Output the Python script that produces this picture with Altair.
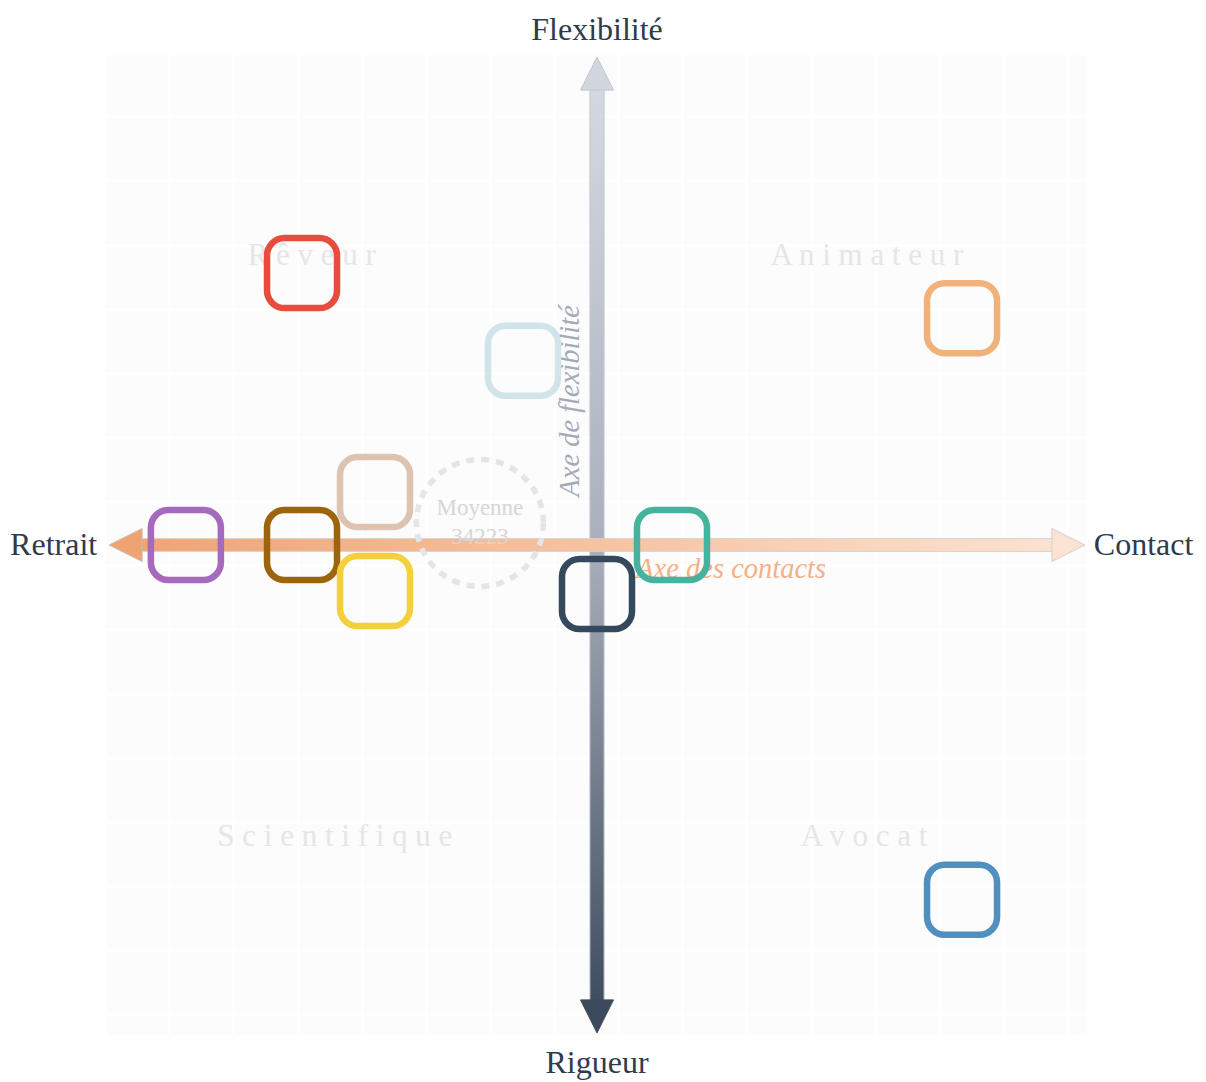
import altair as alt
import numpy as np
import pandas as pd

# ---------------- data ----------------
point_ids = ["A", "B", "C", "D", "E", "F", "G", "H", "I", "J"]
point_x = [-60.2, -15.1, -45.3, -83.9, -60.2, -45.3, 0.0, 15.3, 74.5, 74.5]
point_y = [55.5, 37.6, 10.8, 0.0, 0.0, -9.4, -10.0, 0.0, 46.3, -72.4]
point_colors = ["#e74c3c", "#d1e4ea", "#dcc4b0", "#a569bd", "#9c640c",
                "#f4d03f", "#34495e", "#45b39d", "#f0b27a", "#5090c0"]

quadrant_labels = ["Rêveur", "Animateur", "Scientifique", "Avocat"]
quadrant_x = [-58.2, 55.1, -53.5, 54.5]
quadrant_y = [59.0, 59.0, -59.6, -59.6]

mean_label = "Moyenne"
mean_value = 34223
mean_x = -23.9
mean_y = 4.5

pole_top = "Flexibilité"
pole_bottom = "Rigueur"
pole_left = "Retrait"
pole_right = "Contact"
axis_title_v = "Axe de flexibilité"
axis_title_h = "Axe des contacts"

# ---------------- frames ----------------
points = pd.DataFrame({"id": point_ids, "x": point_x, "y": point_y, "color": point_colors})
quads = pd.DataFrame({"label": [" ".join(list(s)) for s in quadrant_labels],
                      "x": quadrant_x, "y": quadrant_y})
mean_df = pd.DataFrame({"x": [mean_x], "y": [mean_y], "label": [mean_label],
                        "value": [str(mean_value)]})

SERIF = "Liberation Serif"
grid_x = list(np.round(np.arange(-87.3, 99.0, 13.09), 2))
grid_y = list(np.round(np.arange(87.5, -99.0, -13.09), 2))

sx = alt.Scale(domain=[-100, 100], nice=False, zero=False)
sy = alt.Scale(domain=[-100, 100], nice=False, zero=False)
ax_x = alt.Axis(values=grid_x, grid=True, gridColor="#ffffff", gridWidth=2,
                labels=False, ticks=False, domain=False, title=None)
ax_y = alt.Axis(values=grid_y, grid=True, gridColor="#ffffff", gridWidth=2,
                labels=False, ticks=False, domain=False, title=None)


def X(field=None, datum=None):
    if datum is not None:
        return alt.X(datum=datum, type="quantitative", scale=sx, axis=ax_x)
    return alt.X(field, type="quantitative", scale=sx, axis=ax_x)


def Y(field=None, datum=None):
    if datum is not None:
        return alt.Y(datum=datum, type="quantitative", scale=sy, axis=ax_y)
    return alt.Y(field, type="quantitative", scale=sy, axis=ax_y)


one = pd.DataFrame({"k": [0]})
base = alt.Chart(one)

# ---------------- arrows ----------------
grad_v = alt.Gradient(gradient="linear",
                      stops=[alt.GradientStop(offset=0, color="#d5dae2"),
                             alt.GradientStop(offset=0.5, color="#a9b0bc"),
                             alt.GradientStop(offset=1, color="#3d4a5c")],
                      x1=0, x2=0, y1=0, y2=1)
grad_h = alt.Gradient(gradient="linear",
                      stops=[alt.GradientStop(offset=0, color="#f0a372"),
                             alt.GradientStop(offset=0.5, color="#f6c3a2"),
                             alt.GradientStop(offset=1, color="#fbe3d3")],
                      x1=0, x2=1, y1=0, y2=0)

v_shaft = base.mark_rect(fill=grad_v, stroke="#c5cad2", strokeWidth=1).encode(
    x=X(datum=-1.45), x2=alt.X2(datum=1.45), y=Y(datum=-96), y2=alt.Y2(datum=96))
h_shaft = base.mark_rect(fill=grad_h, stroke="#d6d0cc", strokeWidth=1).encode(
    x=X(datum=-96), x2=alt.X2(datum=96), y=Y(datum=-1.3), y2=alt.Y2(datum=1.3))

TRI_UP = "M0,-1L1,1L-1,1Z"
TRI_DOWN = "M0,1L1,-1L-1,-1Z"
TRI_LEFT = "M-1,0L1,-1L1,1Z"
TRI_RIGHT = "M1,0L-1,-1L-1,1Z"
HEAD = 1089

head_up = base.mark_point(shape=TRI_UP, size=HEAD, filled=True, fill="#d2d7df",
                          stroke="#c0c5cd", strokeWidth=1, opacity=1).encode(
    x=X(datum=0), y=Y(datum=96.2))
head_down = base.mark_point(shape=TRI_DOWN, size=HEAD, filled=True, fill="#3d4a5c",
                            stroke="#3d4a5c", strokeWidth=1, opacity=1).encode(
    x=X(datum=0), y=Y(datum=-96.2))
head_left = base.mark_point(shape=TRI_LEFT, size=HEAD, filled=True, fill="#f0a372",
                            stroke="#c8bcb4", strokeWidth=1, opacity=1).encode(
    x=X(datum=-96.2), y=Y(datum=0))
head_right = base.mark_point(shape=TRI_RIGHT, size=HEAD, filled=True, fill="#fbe3d3",
                             stroke="#d8cec8", strokeWidth=1, opacity=1).encode(
    x=X(datum=96.2), y=Y(datum=0))

# ---------------- quadrant labels ----------------
quad_layer = alt.Chart(quads).mark_text(font=SERIF, fontSize=31, color="#e6e6e6",
                                        align="center", baseline="middle").encode(
    x=X("x"), y=Y("y"), text="label:N")

# ---------------- mean ----------------
mean_circle = alt.Chart(mean_df).mark_point(shape="circle", size=16129, filled=False,
                                            stroke="#e3e5e8", strokeWidth=5.5,
                                            strokeDash=[8, 7], opacity=1).encode(
    x=X("x"), y=Y("y"))
mean_txt1 = alt.Chart(mean_df).mark_text(font=SERIF, fontSize=23, color="#d6d6d6",
                                         baseline="middle", dy=-15).encode(
    x=X("x"), y=Y("y"), text="label:N")
mean_txt2 = alt.Chart(mean_df).mark_text(font=SERIF, fontSize=23, color="#d6d6d6",
                                         baseline="middle", dy=14).encode(
    x=X("x"), y=Y("y"), text="value:N")

# ---------------- axis titles ----------------
title_v = base.mark_text(text=axis_title_v, font=SERIF, fontStyle="italic", fontSize=28.5,
                         color="#a4abb8", angle=270, align="center",
                         baseline="middle").encode(x=X(datum=-5.6), y=Y(datum=29.4))
title_h = base.mark_text(text=axis_title_h, font=SERIF, fontStyle="italic", fontSize=28.5,
                         color="#f5b088", align="left",
                         baseline="middle").encode(x=X(datum=8.0), y=Y(datum=-4.9))

# ---------------- points ----------------
RSQ = ("M-0.5,-1L0.5,-1A0.5,0.5,0,0,1,1,-0.5L1,0.5A0.5,0.5,0,0,1,0.5,1"
       "L-0.5,1A0.5,0.5,0,0,1,-1,0.5L-1,-0.5A0.5,0.5,0,0,1,-0.5,-1Z")
pts = alt.Chart(points).mark_point(shape=RSQ, size=4900, filled=False, strokeWidth=6.5,
                                   opacity=1).encode(
    x=X("x"), y=Y("y"),
    stroke=alt.Stroke("color:N", scale=None, legend=None))

# ---------------- pole labels ----------------
POLE = dict(font=SERIF, fontSize=32, color="#2f3b4c", baseline="middle")
p_top = base.mark_text(text=pole_top, align="center", **POLE).encode(
    x=X(datum=0), y=Y(datum=105.2))
p_bottom = base.mark_text(text=pole_bottom, align="center", **POLE).encode(
    x=X(datum=0), y=Y(datum=-105.7))
p_left = base.mark_text(text=pole_left, align="right", **POLE).encode(
    x=X(datum=-102.0), y=Y(datum=0))
p_right = base.mark_text(text=pole_right, align="left", **POLE).encode(
    x=X(datum=101.4), y=Y(datum=0))

chart = alt.layer(
    quad_layer, v_shaft, head_up, head_down, h_shaft, head_left, head_right,
    mean_circle, mean_txt1, mean_txt2, title_v, title_h, pts,
    p_top, p_bottom, p_left, p_right
).properties(
    width=980, height=980,
    autosize=alt.AutoSizeParams(type="none"),
    padding={"left": 99, "top": 47, "right": 110, "bottom": 46},
    background="#ffffff",
).configure_view(fill="#fcfcfc", strokeWidth=0)

chart.save("out.html", embed_options={"renderer": "svg", "actions": False})
